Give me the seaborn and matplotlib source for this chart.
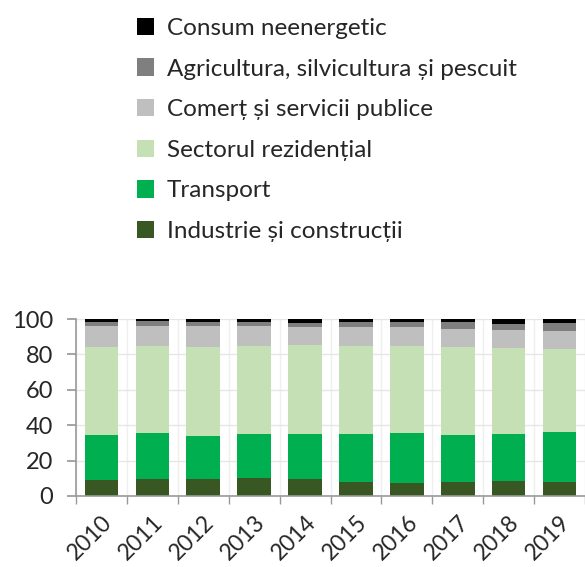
import numpy as np
import pandas as pd
import matplotlib
matplotlib.use("Agg")
import matplotlib.pyplot as plt
import seaborn as sns
from matplotlib.patches import Patch

years = ['2010', '2011', '2012', '2013', '2014', '2015', '2016', '2017', '2018', '2019']

# shares (%) per sector
industrie = [9.2, 9.4, 9.8, 10.4, 9.4, 8.1, 7.5, 7.7, 8.5, 8.1]
transport = [25.5, 26.2, 24.1, 24.8, 25.6, 26.9, 28.1, 27.0, 26.5, 28.2]
rezidential = [49.3, 49.0, 50.3, 49.5, 50.1, 49.7, 49.1, 49.7, 48.6, 46.9]
comert = [11.9, 11.6, 11.7, 11.2, 10.4, 10.6, 10.6, 10.0, 10.0, 10.0]
agricultura = [2.6, 2.5, 2.4, 2.2, 2.4, 2.8, 2.8, 4.1, 3.8, 4.4]
neenergetic = [1.5, 1.3, 1.7, 1.9, 2.1, 1.9, 1.9, 1.5, 2.6, 2.4]

series = [
    ('Industrie și construcții', industrie, '#385723'),
    ('Transport', transport, '#00b050'),
    ('Sectorul rezidențial', rezidential, '#c5e0b4'),
    ('Comerț și servicii publice', comert, '#bfbfbf'),
    ('Agricultura, silvicultura și pescuit', agricultura, '#7f7f7f'),
    ('Consum neenergetic', neenergetic, '#000000'),
]

df = pd.DataFrame({'year': years})
cum = np.zeros(len(years))
for name, vals, col in series:
    cum = cum + np.array(vals)
    df[name] = cum

sns.set_theme(style="white")
plt.rcParams['font.family'] = ['Lato', 'DejaVu Sans']

fig = plt.figure(figsize=(5.85, 5.67), dpi=100)
ax = fig.add_axes([76 / 585, 1 - 496 / 567, 1 - 76 / 585, 177 / 567])

# draw cumulative tops from the highest layer down so lower layers cover upper ones
for name, vals, col in reversed(series):
    sns.barplot(data=df, x='year', y=name, color=col, width=0.66,
                saturation=1, linewidth=0, ax=ax)

ax.set_ylim(0, 100)
ax.set_xlim(-0.5, len(years) - 0.5)
ax.set_yticks([0, 20, 40, 60, 80, 100])
ax.set_xlabel('')
ax.set_ylabel('')
ax.tick_params(axis='y', labelsize=17, length=6.5, color='#999999', direction='out', left=True, pad=10)
ax.set_xticks(np.arange(len(years)))
ax.set_xticklabels(years, rotation=45, ha='right', rotation_mode='anchor', fontsize=16.5)
ax.tick_params(axis='x', length=0, pad=11)
ax.set_xticks(np.arange(-0.5, len(years)), minor=True)
ax.tick_params(axis='x', which='minor', length=5.5, color='#999999', direction='out', bottom=True)

ax.set_axisbelow(True)
ax.grid(axis='y', color='#e6e6e6', linewidth=1)
ax.grid(axis='x', which='minor', color='#efefef', linewidth=1)
for side in ['top', 'right']:
    ax.spines[side].set_visible(False)
for side in ['left', 'bottom']:
    ax.spines[side].set_color('#999999')
    ax.spines[side].set_linewidth(1.2)

handles = [Patch(facecolor=col, edgecolor='none', label=name) for name, vals, col in reversed(series)]
fig.legend(handles=handles, loc='upper left', bbox_to_anchor=(115 / 585, 1 + 4 / 567),
           frameon=False, fontsize=17.5, handlelength=0.72, handleheight=0.72,
           handletextpad=0.5, labelspacing=0.8)

fig.savefig('out.png', dpi=100)
